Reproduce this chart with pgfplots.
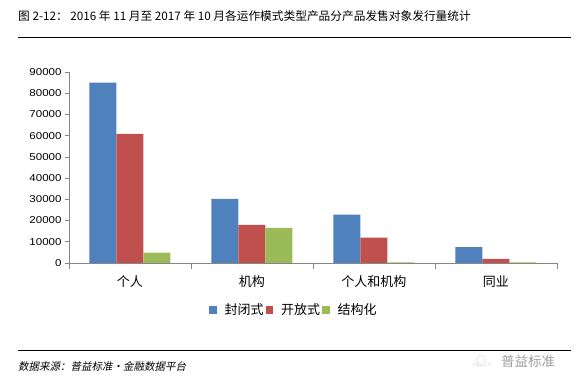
\documentclass[border=0pt]{standalone}
\usepackage{pgfplots}
\pgfplotsset{compat=1.18}
\usepackage{fontspec}
\setmainfont{Noto Sans CJK SC}
\newfontfamily\numfont{Liberation Sans}[FakeStretch=1.15]
\newfontfamily\srcfont{Noto Sans CJK SC}[FakeSlant=0.2]
\definecolor{cblue}{HTML}{4F81BD}
\definecolor{cred}{HTML}{C0504D}
\definecolor{cgreen}{HTML}{9BBB59}
\definecolor{axgray}{HTML}{868686}
\begin{document}
\begin{tikzpicture}
\path[use as bounding box] (0pt,0pt) rectangle (574pt,387pt);
\node[anchor=west, font=\fontsize{11.7}{12}\selectfont, inner sep=0] at (18pt,371pt) {图 2-12： 2016 年 11 月至 2017 年 10 月各运作模式类型产品分产品发售对象发行量统计};
\draw[line width=1pt] (18pt,349pt) -- (571pt,349pt);
\draw[line width=1pt] (18pt,36pt) -- (571pt,36pt);
\node[anchor=west, font=\srcfont\fontsize{10.5}{12}\selectfont, inner sep=0] at (18pt,21pt) {数据来源：普益标准·金融数据平台};
\node[anchor=west, text=gray!75, font=\fontsize{13.5}{14}\selectfont, inner sep=0] at (501pt,26pt) {普益标准};
\draw[gray!55, densely dotted, line width=0.6pt] (473pt,24pt) .. controls (478pt,20pt) and (486pt,20pt) .. (492pt,25pt);
\draw[gray!55, densely dotted, line width=0.6pt] (481pt,27pt) circle (4.5pt);
\begin{axis}[
  at={(69pt,124pt)}, anchor=south west,
  scale only axis, width=488pt, height=191pt,
  xmin=-0.5, xmax=3.5, ymin=0, ymax=90000,
  ybar=0pt, bar width=27pt,
  axis x line*=bottom, axis y line*=left,
  axis line style={draw=axgray, line width=0.6pt, -},
  xtick={0,1,2,3},
  xticklabels={个人,机构,个人和机构,同业},
  x tick label style={font=\fontsize{13}{14}\selectfont, yshift=-5pt},
  major x tick style={draw=none},
  extra x ticks={-0.5,0.5,1.5,2.5,3.5},
  extra x tick labels={},
  extra x tick style={major x tick style={draw=axgray, line width=0.6pt}, major tick length=6pt, tick align=outside},
  ytick={0,10000,...,90000},
  scaled y ticks=false,
  y tick label style={font=\numfont\fontsize{10}{12}\selectfont, /pgf/number format/.cd, fixed, 1000 sep={}, assume math mode=true},
  y tick style={draw=axgray, line width=0.6pt},
  major tick length=4pt, tick align=outside,
  legend style={at={(0.461,-0.246)}, anchor=center, draw=none, legend columns=-1,
    font=\fontsize{13}{14}\selectfont,
    /tikz/every even column/.append style={column sep=0pt},
    /tikz/every odd column/.append style={column sep=6pt}},
  legend image code/.code={\fill[#1] (0pt,-3.8pt) rectangle (7.5pt,3.8pt);},
]
\addplot[fill=cblue, draw=none] coordinates {(0,85000) (1,30200) (2,22800) (3,7500)};
\addplot[fill=cred, draw=none] coordinates {(0,60800) (1,18000) (2,11900) (3,1900)};
\addplot[fill=cgreen, draw=none] coordinates {(0,4900) (1,16500) (2,300) (3,300)};
\legend{封闭式,开放式,结构化}
\end{axis}
\end{tikzpicture}
\end{document}
